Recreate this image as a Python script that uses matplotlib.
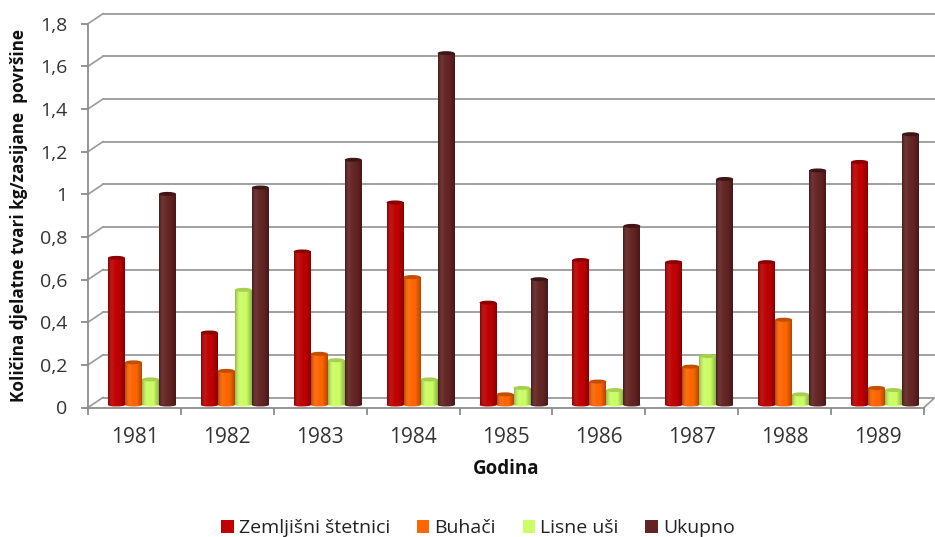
import numpy as np
import matplotlib
matplotlib.use("Agg")
import matplotlib.pyplot as plt
from matplotlib.patches import Ellipse
from matplotlib.transforms import ScaledTranslation
from matplotlib.colors import LinearSegmentedColormap

years = ["1981", "1982", "1983", "1984", "1985", "1986", "1987", "1988", "1989"]
zemljisni = [0.69, 0.34, 0.72, 0.95, 0.48, 0.68, 0.67, 0.67, 1.14]
buhaci = [0.20, 0.16, 0.24, 0.60, 0.05, 0.11, 0.18, 0.40, 0.08]
lisne = [0.12, 0.54, 0.21, 0.12, 0.08, 0.07, 0.23, 0.05, 0.07]
ukupno = [0.99, 1.02, 1.15, 1.65, 0.59, 0.84, 1.06, 1.10, 1.27]
names = ["Zemljišni štetnici", "Buhači", "Lisne uši", "Ukupno"]
colors = ["#C00000", "#FF6600", "#CCFF66", "#632523"]
top_colors = ["#8E0000", "#C24E00", "#A6D050", "#3F1615"]
y_ticks = [0, 0.2, 0.4, 0.6, 0.8, 1, 1.2, 1.4, 1.6, 1.8]
y_labels = ["0", "0,2", "0,4", "0,6", "0,8", "1", "1,2", "1,4", "1,6", "1,8"]

plt.rcParams["font.family"] = ["Open Sans", "DejaVu Sans"]
W, H = 935, 537
fig = plt.figure(figsize=(W / 100, H / 100), dpi=100)
L, R, T, B = 88, 924, 23.7, 407.5
ax = fig.add_axes([L / W, 1 - B / H, (R - L) / W, (B - T) / H])
ax.patch.set_alpha(0)
for s in ("top", "right"):
    ax.spines[s].set_visible(False)
for s in ("left", "bottom"):
    ax.spines[s].set_color("#8C8C8C")
    ax.spines[s].set_linewidth(1.3)

px = 1 / 100
back = ax.transData + ScaledTranslation(15 * px, 10 * px, fig.dpi_scale_trans)
bars_tr = ax.transData + ScaledTranslation(7.5 * px, 2.5 * px, fig.dpi_scale_trans)
ppu = (B - T) / 1.8
ppx = (R - L) / 9
dx, dy = 15 / ppx, 10 / ppu

for v in y_ticks:
    ax.plot([0, 9.2], [v, v], color="#9A9A9A", lw=1.3, transform=back, clip_on=False, zorder=1)
    ax.plot([0, dx], [v, v + dy], color="#9A9A9A", lw=1.2, clip_on=False, zorder=1)
ax.plot([9, 9 + 11 / ppx], [0, dy], color="#9A9A9A", lw=1.2, clip_on=False, zorder=1)

shade = LinearSegmentedColormap.from_list(
    "cyl", [(0, 0, 0, 0.28), (1, 1, 1, 0.05), (0, 0, 0, 0), (0, 0, 0, 0.30)], N=64
)
grad = np.linspace(0, 1, 64).reshape(1, -1)
bw = 17 / ppx
offs = [-1.5 * bw, -0.5 * bw, 0.5 * bw, 1.5 * bw]
series = [zemljisni, buhaci, lisne, ukupno]
for k, (vals, c, tc) in enumerate(zip(series, colors, top_colors)):
    xs = np.arange(9) + 0.5 + offs[k]
    bars = ax.bar(xs, vals, width=bw, color=c, transform=bars_tr, zorder=3 + k, label=names[k], linewidth=0)
    for x, v, b in zip(xs, vals, bars):
        im = ax.imshow(grad, extent=[x - bw / 2, x + bw / 2, 0, v], aspect="auto",
                       cmap=shade, vmin=0, vmax=1, transform=bars_tr, zorder=3 + k + 0.1)
        im.set_clip_path(b)
        ax.add_patch(Ellipse((x, 0), bw, 3 / ppu, color=c, transform=bars_tr, zorder=3 + k, lw=0, clip_on=False))
        ax.add_patch(Ellipse((x, v), bw, 4 / ppu, color=tc, transform=bars_tr, zorder=3 + k + 0.2, lw=0))
ax.set_xlim(0, 9)
ax.set_ylim(0, 1.8)

ax.set_yticks(y_ticks, y_labels, fontsize=14, color="#333333")
ax.set_xticks(np.arange(10))
ax.set_xticklabels([])
ax.set_xticks(np.arange(9) + 0.5, years, minor=True, fontsize=15, color="#333333")
ax.tick_params(axis="x", which="minor", length=0, pad=14)
ax.tick_params(axis="both", which="major", color="#8C8C8C", width=1.3, length=5.2)
ax.tick_params(axis="y", which="major", pad=9.5)

fig.text(506 / W, 1 - 469 / H, "Godina", ha="center", va="center", fontsize=13.5, fontweight="bold", color="#111111")
fig.text(19 / W, 1 - 216 / H, "Količina djelatne tvari kg/zasijane  površine", rotation=90,
         ha="center", va="center", fontsize=12.3, fontweight="bold", color="#111111")

h, l = ax.get_legend_handles_labels()
fig.legend(h, l, loc="center", bbox_to_anchor=(478 / W, 1 - 528 / H), ncol=4, frameon=False, fontsize=14,
           handlelength=0.64, handleheight=0.64, handletextpad=0.25, columnspacing=1.39, labelcolor="#222222",
           borderpad=0)

fig.savefig("out.png", dpi=100, facecolor="white")
